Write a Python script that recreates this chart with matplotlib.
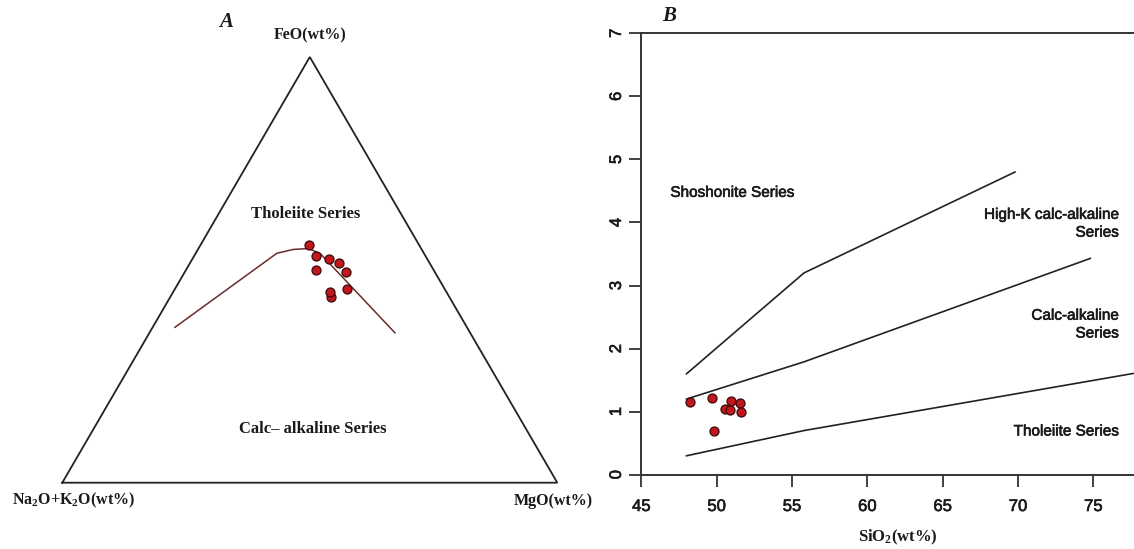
import numpy as np
import matplotlib
matplotlib.use("Agg")
import matplotlib.pyplot as plt
import matplotlib.patheffects as pe

# ---------------- Data ----------------
# Panel A: AFM ternary (A = Na2O+K2O, F = FeO, M = MgO), wt%
afm_A = [22.2, 22.0, 19.8, 18.3, 23.8, 18.0, 19.7, 23.8, 23.6]
afm_F = [55.9, 53.3, 52.5, 51.5, 50.0, 49.4, 45.4, 43.7, 44.7]
afm_M = [21.9, 24.7, 27.7, 30.2, 26.2, 32.5, 34.9, 32.5, 31.7]

# Tholeiite / calc-alkaline boundary
bnd_A = [59.0, 29.7, 25.9, 22.8, 21.0, 15.2]
bnd_F = [36.5, 53.9, 54.8, 55.0, 53.9, 35.2]
bnd_M = [4.5, 16.4, 19.3, 22.2, 25.1, 49.6]

# Panel B: SiO2 vs K2O
sio2 = [48.25, 49.72, 49.84, 50.54, 50.89, 50.93, 51.54, 51.61]
k2o = [1.16, 1.21, 0.70, 1.04, 1.02, 1.17, 1.14, 1.00]

# Series boundary lines (SiO2, K2O)
shosh_x = [48, 55.8, 69.8]
shosh_y = [1.6, 3.2, 4.8]
highk_x = [48, 55.8, 74.8]
highk_y = [1.2, 1.79, 3.43]
thol_x = [48, 55.8, 78]
thol_y = [0.3, 0.7, 1.62]

xticks_b = [45, 50, 55, 60, 65, 70, 75]
yticks_b = [0, 1, 2, 3, 4, 5, 6, 7]

# ---------------- Figure ----------------
plt.rcParams["mathtext.fontset"] = "custom"
plt.rcParams["mathtext.rm"] = "Liberation Serif:bold"
plt.rcParams["mathtext.it"] = "Liberation Serif:bold"
plt.rcParams["mathtext.bf"] = "Liberation Serif:bold"

W, H = 1134, 549
fig = plt.figure(figsize=(W / 100, H / 100), dpi=100)
fig.patch.set_facecolor("white")

serif = ["Liberation Serif", "DejaVu Serif"]
sans = ["Liberation Sans", "DejaVu Sans"]
heavy = [pe.withStroke(linewidth=0.45, foreground="#1a1a1a")]

pt_face = "#c0161c"
pt_edge = "#3a0a0a"


def tern(a, f, m):
    a, f, m = (np.asarray(v, float) for v in (a, f, m))
    s = a + f + m
    f, m = f / s, m / s
    return m + f / 2.0, f * np.sqrt(3) / 2.0


# ---- Panel A ----
x0, x1, yb, yt = 62.3, 557.3, 482.7, 57.0
axA = fig.add_axes([x0 / W, (H - yb) / H, (x1 - x0) / W, (yb - yt) / H])
axA.set_xlim(0, 1)
axA.set_ylim(0, np.sqrt(3) / 2)
axA.axis("off")
h = np.sqrt(3) / 2
axA.plot([0, 1, 0.5, 0], [0, 0, h, 0], color="#222222", lw=1.3,
         clip_on=False, solid_joinstyle="miter")
bx, by = tern(bnd_A, bnd_F, bnd_M)
axA.plot(bx, by, color="#6e2a2a", lw=1.1)
px, py = tern(afm_A, afm_F, afm_M)
axA.scatter(px, py, s=42, c=pt_face, edgecolors=pt_edge, linewidths=0.9,
            zorder=3)


def fx(p):
    return (p - x0) / (x1 - x0)


def fy(p):
    return (yb - p) / (yb - yt) * h


tkw = dict(family=serif, fontweight="bold", ha="center", va="center",
           clip_on=False, color="#1a1a1a")
axA.text(fx(310), fy(35), "FeO(wt%)", fontsize=11.5, **tkw)
axA.text(fx(74), fy(500), r"Na$_{2}$O+K$_{2}$O(wt%)", fontsize=11.5, **tkw)
axA.text(fx(553), fy(500.7), "MgO(wt%)", fontsize=11.5, **tkw)
axA.text(fx(306), fy(213.7), "Tholeiite Series", fontsize=12, **tkw)
axA.text(fx(313), fy(429), "Calc\u2013 alkaline Series", fontsize=12, **tkw)
axA.text(fx(226), fy(21.7), "A", fontsize=15, fontstyle="italic", **tkw)

# ---- Panel B ----
bl, br, bb, bt = 641.3, 1134.0, 474.7, 33.3
axB = fig.add_axes([bl / W, (H - bb) / H, (br - bl) / W, (bb - bt) / H])
axB.set_xlim(45, 77.7)
axB.set_ylim(0, 7)
for sp in ("left", "top", "bottom"):
    axB.spines[sp].set_color("#333333")
    axB.spines[sp].set_linewidth(1.4)
axB.spines["right"].set_visible(False)
axB.set_xticks(xticks_b)
axB.set_yticks(yticks_b)
axB.tick_params(axis="both", length=8.5, width=1.3, color="#333333",
                labelsize=12, labelcolor="#1a1a1a")
axB.tick_params(axis="x", pad=9)
axB.tick_params(axis="y", pad=4)
for lab in axB.get_xticklabels():
    lab.set_family(sans)
    lab.set_path_effects(heavy)
for lab in axB.get_yticklabels():
    lab.set_family(sans)
    lab.set_rotation(90)
    lab.set_va("center")
    lab.set_path_effects(heavy)

lc = "#222222"
axB.plot(shosh_x, shosh_y, color=lc, lw=1.2)
axB.plot(highk_x, highk_y, color=lc, lw=1.2)
axB.plot(thol_x, thol_y, color=lc, lw=1.2)
axB.scatter(sio2, k2o, s=42, c=pt_face, edgecolors=pt_edge, linewidths=0.9,
            zorder=3)

skw = dict(family=sans, fontsize=11, color="#1a1a1a", va="center",
           path_effects=heavy)
axB.text(46.93, 4.47, "Shoshonite Series", ha="left", **skw)
axB.text(76.68, 3.98, "High-K calc-alkaline\nSeries", ha="right",
         multialignment="right", linespacing=1.35, **skw)
axB.text(76.68, 2.38, "Calc-alkaline\nSeries", ha="right",
         multialignment="right", linespacing=1.35, **skw)
axB.text(76.68, 0.685, "Tholeiite Series", ha="right", **skw)

fig.text(898 / W, 1 - 537 / H, r"SiO$_{2}$(wt%)", family=serif,
         fontweight="bold", fontsize=12, ha="center", va="center",
         color="#1a1a1a")
fig.text(669 / W, 1 - 15.7 / H, "B", family=serif, fontweight="bold",
         fontstyle="italic", fontsize=15, ha="center", va="center",
         color="#1a1a1a")

fig.savefig("out.png", dpi=100, facecolor="white")
